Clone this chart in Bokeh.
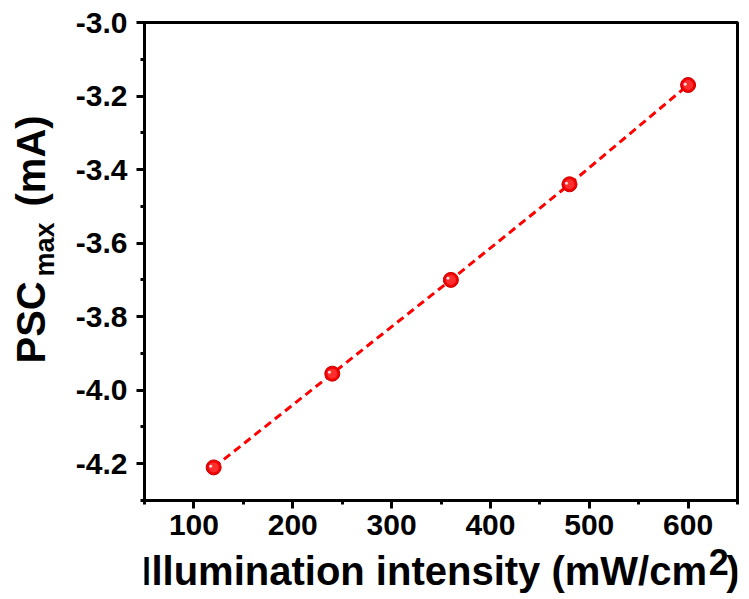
import math
from bokeh.plotting import figure
from bokeh.layouts import row, column
from bokeh.models import FixedTicker, Range1d, ColumnDataSource
from bokeh.core.properties import value
from bokeh.embed import file_html
from bokeh.resources import INLINE

# data
intensity = [120, 240, 360, 480, 600]
psc_max = [-4.21, -3.955, -3.70, -3.44, -3.17]

x_major = [100, 200, 300, 400, 500, 600]
x_minor = [50, 150, 250, 350, 450, 550, 650]
y_major = [-4.2, -4.0, -3.8, -3.6, -3.4, -3.2, -3.0]
y_minor = [-4.3, -4.1, -3.9, -3.7, -3.5, -3.3, -3.1]
y_labels = {-4.2: "-4.2", -4.0: "-4.0", -3.8: "-3.8", -3.6: "-3.6",
            -3.4: "-3.4", -3.2: "-3.2", -3.0: "-3.0"}
x_labels = {100: "100", 200: "200", 300: "300", 400: "400", 500: "500", 600: "600"}

FONT = "Liberation Sans"
TOTAL_W, TOTAL_H = 745, 597
LEFT_W = 64      # strip holding the y-axis title
BOTTOM_H = 50    # strip holding the x-axis title
MAIN_W = TOTAL_W - LEFT_W
MAIN_H = TOTAL_H - BOTTOM_H

# ---------------- main plot ----------------
p = figure(width=MAIN_W, height=MAIN_H, output_backend="svg", toolbar_location=None,
           x_range=Range1d(50, 650), y_range=Range1d(-4.3, -3.0),
           min_border_left=144 - LEFT_W, min_border_top=22,
           min_border_right=TOTAL_W - 737, min_border_bottom=MAIN_H - 500)
p.background_fill_color = "white"
p.border_fill_color = "white"
p.grid.visible = False
p.outline_line_color = "black"
p.outline_line_width = 3

for ax in (p.xaxis[0], p.yaxis[0]):
    ax.axis_line_width = 3
    ax.major_tick_line_width = 3
    ax.minor_tick_line_width = 3
    ax.major_tick_in = 0
    ax.major_tick_out = 8
    ax.minor_tick_in = 0
    ax.minor_tick_out = 4
    ax.major_label_text_font = FONT
    ax.major_label_text_font_style = "bold"
    ax.major_label_text_font_size = "30px"
    ax.major_label_text_color = "black"

p.xaxis.ticker = FixedTicker(ticks=x_major, minor_ticks=x_minor)
p.yaxis.ticker = FixedTicker(ticks=y_major, minor_ticks=y_minor)
p.xaxis.major_label_overrides = x_labels
p.yaxis.major_label_overrides = y_labels
p.xaxis.major_label_standoff = 6
p.yaxis.major_label_standoff = 9

src = ColumnDataSource(dict(x=intensity, y=psc_max))
p.line("x", "y", source=src, line_color="#ff0000", line_width=3, line_dash="8 5")
p.scatter("x", "y", source=src, size=15, fill_color="#f20000", line_color="#c80000", line_width=1)
p.scatter("x", "y", source=src, size=10, fill_color="#ff3a3a", line_color=None, fill_alpha=0.8)
p.text("x", "y", source=src, text=value("\u25cf"), text_color="white", text_alpha=0.85,
       text_font_size="7px", text_align="center", text_baseline="middle",
       x_offset=-3, y_offset=-2)


def strip(w, h, x0, y0):
    """A figure without axes whose data coordinates are page pixels."""
    f = figure(width=w, height=h, output_backend="svg", toolbar_location=None,
               x_axis_location=None, y_axis_location=None,
               x_range=Range1d(x0, x0 + w), y_range=Range1d(TOTAL_H - (y0 + h), TOTAL_H - y0),
               min_border=0)
    f.grid.visible = False
    f.outline_line_color = None
    f.background_fill_color = "white"
    f.border_fill_color = "white"
    return f


def put(f, x, y, txt, size, angle=0.0, align="left"):
    f.text(x=[x], y=[TOTAL_H - y], text=[txt], angle=angle,
           text_font=value(FONT), text_font_style="bold", text_font_size=size,
           text_color="black", text_align=align, text_baseline="alphabetic")


# ---------------- x-axis title ----------------
px = strip(MAIN_W, BOTTOM_H, LEFT_W, MAIN_H)
put(px, 710, 570, "Illumination intensity (mW/cm", "40px", align="right")
put(px, 712, 561, "2", "36px")
put(px, 732, 570, ")", "40px")

# ---------------- y-axis title ----------------
py = strip(LEFT_W, TOTAL_H, 0, 0)
ang = math.pi / 2
put(py, 30, 363, "PSC", "40px", ang)
put(py, 44, 276, "max", "27px", ang)
put(py, 30, 206, "(mA)", "40px", ang)

layout = row(py, column(p, px))
open("out.html", "w").write(file_html(layout, INLINE))
